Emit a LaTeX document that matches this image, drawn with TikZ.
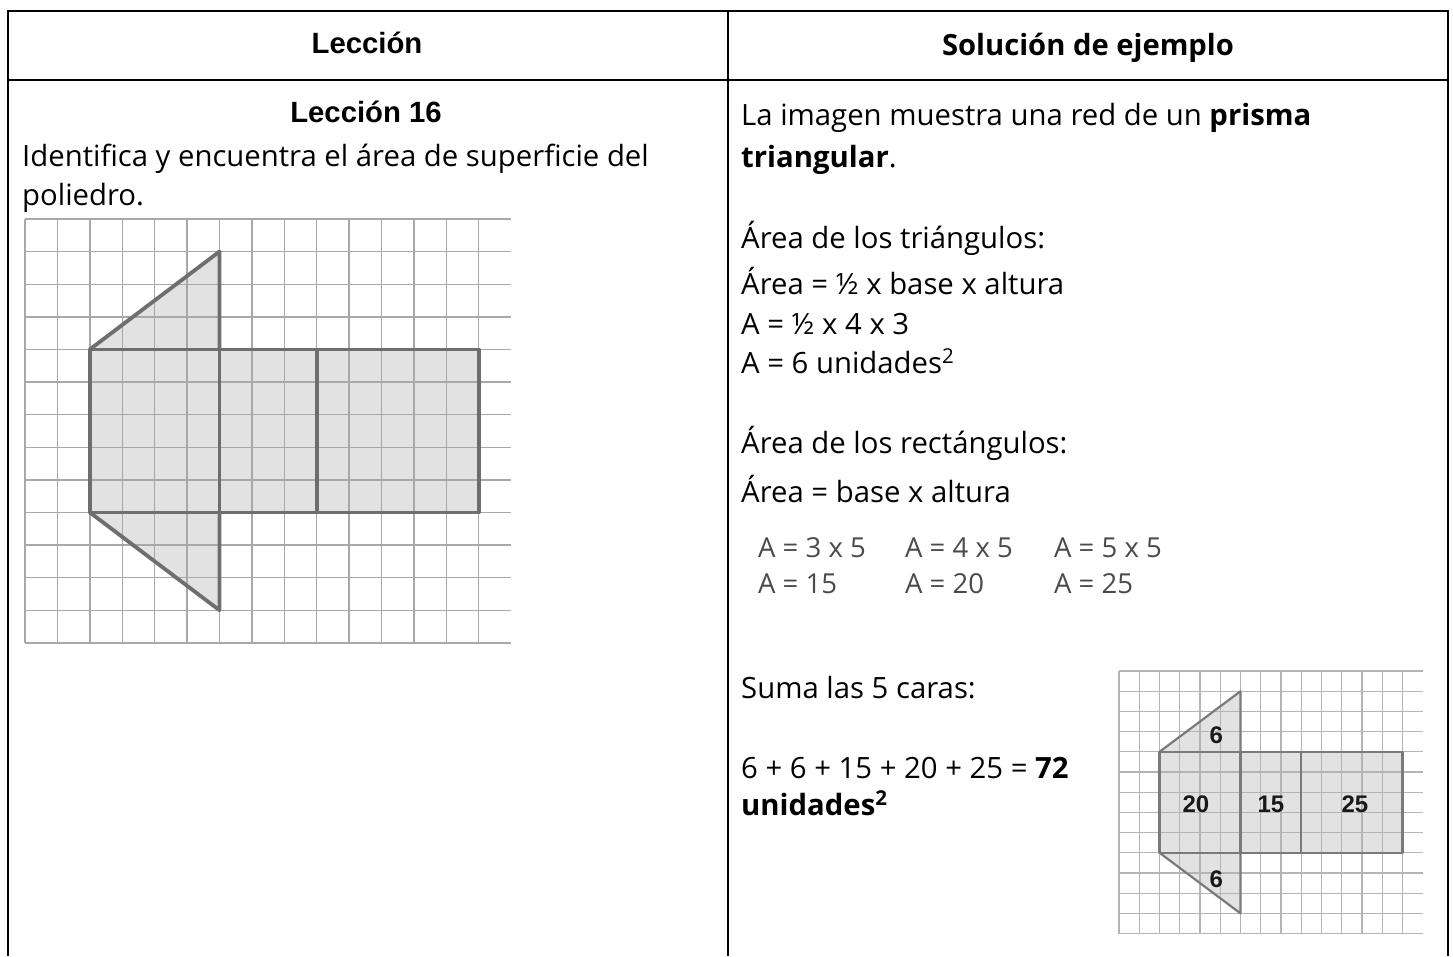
\documentclass[tikz,border=0pt]{standalone}
\usepackage{fontspec}
\setmainfont{Open Sans}
\newfontfamily\arialfont{Liberation Sans}
\definecolor{gridgray}{HTML}{A8A8A8}
\definecolor{shapegray}{HTML}{6E6E6E}
\definecolor{fillgray}{HTML}{E2E2E2}
\definecolor{calcgray}{HTML}{4A4A4A}
\definecolor{smallgrid}{HTML}{B4B4B4}
\definecolor{smallshape}{HTML}{7A7A7A}
\tikzset{
  tableline/.style={line width=2.6pt, black},
  txt/.style={anchor=base west, inner sep=0pt, font=\fontsize{29.3}{38}\selectfont},
  calc/.style={anchor=base west, inner sep=0pt, text=calcgray, font=\fontsize{27.5}{30}\selectfont},
  headA/.style={anchor=base, inner sep=0pt, font=\arialfont\bfseries\fontsize{29.3}{32}\selectfont},
  headB/.style={anchor=base, inner sep=0pt, font=\bfseries\fontsize{29.2}{32}\selectfont},
  gridline/.style={line width=1.4pt, gridgray},
  netline/.style={line width=3.8pt, shapegray, line join=round},
  sgridline/.style={line width=1.3pt, smallgrid},
  snetline/.style={line width=2.2pt, smallshape, line join=round},
  facelabel/.style={inner sep=0pt, font=\arialfont\bfseries\fontsize{24}{28}\selectfont, text=black!90}
}
\begin{document}
\begin{tikzpicture}[x=1pt, y=-1pt]
\useasboundingbox (0,0) rectangle (1453,956);
% table
\coordinate (tl) at (8,11);
\coordinate (tr) at (1448,11);
\coordinate (hl) at (8,80);
\coordinate (hr) at (1448,80);
\coordinate (bl) at (8,956);
\coordinate (br) at (1448,956);
\coordinate (mt) at (728,11);
\coordinate (mb) at (728,956);
\draw[tableline] (bl) -- (tl) -- (tr) -- (br);
\draw[tableline] (hl) -- (hr);
\draw[tableline] (mt) -- (mb);

% headers
\node[headA] (h1) at (367,53) {Lección};
\node[headB] (h2) at (1088,55) {Solución de ejemplo};

% left column text
\node[headA] (l16) at (366,122) {Lección 16};
\node[txt] (t1) at (22,166) {Identifica y encuentra el área de superficie del};
\node[txt] (t2) at (22,205) {poliedro.};

% left grid
\begin{scope}[shift={(25,219)}, x=32.4pt, y=-32.6pt]
  \fill[fillgray] (2,4) -- (6,1) -- (6,4) -- (14,4) -- (14,9) -- (6,9) -- (6,12) -- (2,9) -- cycle;
  \foreach \i in {0,...,14} \draw[gridline] (\i,0) -- (\i,13);
  \foreach \j in {0,...,13} \draw[gridline] (0,\j) -- (15,\j);
  \draw[netline] (2,4) -- (6,1) -- (6,4);
  \draw[netline] (2,9) -- (6,12) -- (6,9);
  \draw[netline] (2,4) rectangle (14,9);
  \draw[netline] (6,4) -- (6,9);
  \draw[netline] (9,4) -- (9,9);
\end{scope}

% right column text
\node[txt] (r1) at (741,125) {La imagen muestra una red de un \textbf{prisma}};
\node[txt] (r2) at (741,167) {\textbf{triangular}.};
\node[txt] (r3) at (741,248) {Área de los triángulos:};
\node[txt] (r4) at (741,294) {Área = ½ x base x altura};
\node[txt] (r5) at (741,334) {A = ½ x 4 x 3};
\node[txt] (r6) at (741,373) {A = 6 unidades\textsuperscript{2}};
\node[txt] (r7) at (741,453) {Área de los rectángulos:};
\node[txt] (r8) at (741,502) {Área = base x altura};
\node[calc] (c1) at (758,557) {A = 3 x 5};
\node[calc] (c2) at (905,557) {A = 4 x 5};
\node[calc] (c3) at (1054,557) {A = 5 x 5};
\node[calc] (c4) at (758,593) {A = 15};
\node[calc] (c5) at (905,593) {A = 20};
\node[calc] (c6) at (1054,593) {A = 25};
\node[txt] (r9) at (741,698) {Suma las 5 caras:};
\node[txt] (r10) at (741,778) {6 + 6 + 15 + 20 + 25 = \textbf{72}};
\node[txt] (r11) at (741,815) {\textbf{unidades\textsuperscript{2}}};

% small grid
\begin{scope}[shift={(1119,671)}, x=20.25pt, y=-20.2pt]
  \fill[fillgray] (2,4) -- (6,1) -- (6,4) -- (14,4) -- (14,9) -- (6,9) -- (6,12) -- (2,9) -- cycle;
  \foreach \i in {0,...,14} \draw[sgridline] (\i,0) -- (\i,13);
  \foreach \j in {0,...,13} \draw[sgridline] (0,\j) -- (15,\j);
  \draw[snetline] (2,4) -- (6,1) -- (6,4);
  \draw[snetline] (2,9) -- (6,12) -- (6,9);
  \draw[snetline] (2,4) rectangle (14,9);
  \draw[snetline] (6,4) -- (6,9);
  \draw[snetline] (9,4) -- (9,9);
  \node[facelabel] (f1) at (4.8,3.2) {6};
  \node[facelabel] (f2) at (3.8,6.6) {20};
  \node[facelabel] (f3) at (7.5,6.6) {15};
  \node[facelabel] (f4) at (11.65,6.6) {25};
  \node[facelabel] (f5) at (4.8,10.3) {6};
\end{scope}
\end{tikzpicture}
\end{document}
